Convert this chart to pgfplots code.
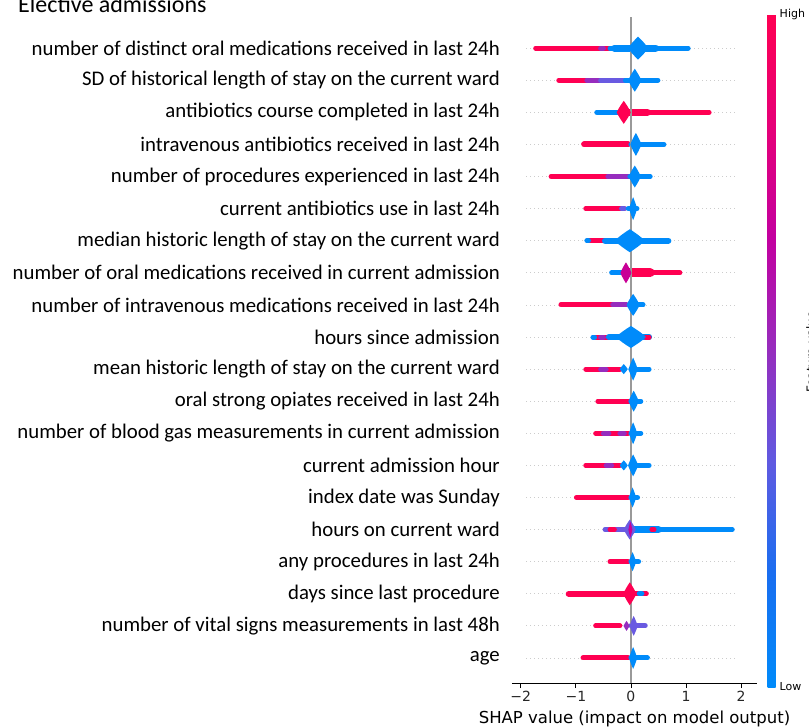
\documentclass[border=0pt]{standalone}
\usepackage{pgfplots}
\pgfplotsset{compat=1.18}
\usepackage{fontspec}
\setmainfont{Carlito}
\newfontfamily\dejavu{DejaVu Sans}
\definecolor{sred}{RGB}{255,0,82}
\definecolor{sblue}{RGB}{0,139,250}
\definecolor{spurple}{RGB}{150,45,190}
\definecolor{sviolet}{RGB}{105,90,225}
\definecolor{smag}{RGB}{200,0,150}
\definecolor{zline}{RGB}{153,153,153}
\definecolor{gridc}{RGB}{204,204,204}
\pgfdeclareplotmark{violin}{%
  \pgfpathmoveto{\pgfqpoint{-1pt}{0pt}}%
  \pgfpathcurveto{\pgfqpoint{-0.8pt}{0.3pt}}{\pgfqpoint{-0.3pt}{0.75pt}}{\pgfqpoint{0pt}{1pt}}%
  \pgfpathcurveto{\pgfqpoint{0.3pt}{0.75pt}}{\pgfqpoint{0.8pt}{0.3pt}}{\pgfqpoint{1pt}{0pt}}%
  \pgfpathcurveto{\pgfqpoint{0.8pt}{-0.3pt}}{\pgfqpoint{0.3pt}{-0.75pt}}{\pgfqpoint{0pt}{-1pt}}%
  \pgfpathcurveto{\pgfqpoint{-0.3pt}{-0.75pt}}{\pgfqpoint{-0.8pt}{-0.3pt}}{\pgfqpoint{-1pt}{0pt}}%
  \pgfpathclose
  \pgfusepathqfill
}
\newcommand\band[4]{\addplot[draw=#4, line width=5pt, line cap=round, forget plot] coordinates {(#2,#1) (#3,#1)};}
\newcommand\bandw[5]{\addplot[draw=#4, line width=#5, line cap=round, forget plot] coordinates {(#2,#1) (#3,#1)};}
\newcommand\blob[5]{\addplot[only marks, mark=violin, forget plot, mark options={fill=#5, draw=none, xscale=#3, yscale=#4}] coordinates {(#2,#1)};}
\begin{document}
\begin{tikzpicture}[x=1pt,y=1pt]
\useasboundingbox (0,0) rectangle (809,-727);
\node[anchor=base west, inner sep=0pt, font=\fontsize{24}{28}\selectfont] at (18,-13) {Elective admissions};
\node[rotate=90, anchor=north, inner sep=0pt, font=\dejavu\fontsize{12}{14}\selectfont] at (806,-352) {Feature value};
\begin{axis}[
  at={(512pt,-683pt)}, anchor=south west,
  scale only axis, width=245pt, height=666pt,
  xmin=-2.16, xmax=2.29, ymin=-0.78, ymax=19.97,
  axis x line*=bottom, axis y line*=left,
  y axis line style={draw=none},
  x axis line style={-, black, line width=0.8pt},
  xtick={-2,-1,0,1,2}, xticklabels={−2,−1,0,1,2},
  xtick align=outside, major tick length=5pt,
  xtick style={black, line width=0.8pt},
  xticklabel style={font=\dejavu\fontsize{14}{16}\selectfont, text=black!85},
  xlabel={SHAP value (impact on model output)},
  xlabel style={font=\dejavu\fontsize{16.5}{19}\selectfont, inner sep=0pt, yshift=-5pt},
  ytick={0,...,19},
  yticklabels={age, number of vital signs measurements in last 48h, days since last procedure, any procedures in last 24h, hours on current ward, index date was Sunday, current admission hour, number of blood gas measurements in current admission, oral strong opiates received in last 24h, mean historic length of stay on the current ward, hours since admission, number of intravenous medications received in last 24h, number of oral medications received in current admission, median historic length of stay on the current ward, current antibiotics use in last 24h, number of procedures experienced in last 24h, intravenous antibiotics received in last 24h, antibiotics course completed in last 24h, SD of historical length of stay on the current ward, number of distinct oral medications received in last 24h},
  ytick style={draw=none},
  yticklabel style={font=\fontsize{20.8}{24}\selectfont, anchor=east, inner sep=0pt, xshift=-12pt},
  colormap={shap}{rgb255=(0,139,250) rgb255=(25,110,240) rgb255=(95,90,225) rgb255=(150,45,190) rgb255=(195,0,160) rgb255=(230,0,120) rgb255=(255,0,82)},
  point meta min=0, point meta max=1,
  colorbar,
  colorbar style={at={(parent axis.north east)}, anchor=north west, xshift=2pt, yshift=3pt,
    scale only axis, width=8pt, height=673pt,
    ytick={0,1}, yticklabels={Low,High}, ytick style={draw=none},
    axis line style={draw=none},
    yticklabel style={font=\dejavu\fontsize{11}{13}\selectfont, inner sep=0pt, xshift=4pt}},
]
\pgfplotsinvokeforeach{0,...,19}{\addplot[gridc, dash pattern=on 1pt off 3pt, line width=0.8pt, forget plot] coordinates {(-1.9,#1) (1.95,#1)};}
% row 19
\band{19}{-1.73}{-0.38}{sred}
\band{19}{-0.55}{-0.5}{spurple}
\band{19}{-0.38}{1.04}{sblue}
\bandw{19}{-0.3}{0.45}{sblue}{7pt}
\blob{19}{0.13}{10}{11.5}{sblue}
% row 18
\band{18}{-1.31}{-0.8}{sred}
\band{18}{-0.8}{-0.55}{spurple}
\band{18}{-0.55}{-0.1}{sviolet}
\band{18}{-0.1}{0.49}{sblue}
\blob{18}{0.07}{6.5}{11.5}{sblue}
% row 17
\band{17}{-0.62}{-0.2}{sblue}
\band{17}{-0.05}{1.42}{sred}
\bandw{17}{-0.05}{0.3}{sred}{7pt}
\blob{17}{-0.13}{7}{11.5}{sred}
% row 16
\bandw{16}{-0.85}{-0.05}{sred}{6pt}
\band{16}{0}{0.6}{sblue}
\blob{16}{0.09}{5.5}{11.5}{sblue}
% row 15
\band{15}{-1.45}{-0.42}{sred}
\band{15}{-0.42}{-0.02}{spurple}
\band{15}{-0.02}{0.35}{sblue}
\blob{15}{0.07}{6}{11}{sblue}
% row 14
\band{14}{-0.82}{-0.12}{sred}
\band{14}{-0.17}{-0.12}{sviolet}
\band{14}{-0.05}{0.11}{sblue}
\blob{14}{0.04}{4}{11.5}{sblue}
% row 13
\band{13}{-0.78}{-0.47}{sred}
\band{13}{-0.8}{-0.77}{sblue}
\bandw{13}{-0.47}{0.68}{sblue}{6pt}
\blob{13}{-0.02}{15}{11.5}{sblue}
% row 12
\band{12}{-0.35}{-0.15}{sblue}
\band{12}{-0.05}{0.89}{sred}
\bandw{12}{-0.05}{0.35}{sred}{9pt}
\blob{12}{-0.09}{5.5}{10.5}{smag}
% row 11
\band{11}{-1.27}{-0.33}{sred}
\band{11}{-0.33}{-0.08}{spurple}
\band{11}{0}{0.22}{sblue}
\blob{11}{0.04}{6.5}{11}{sblue}
% row 10
\band{10}{-0.66}{-0.4}{sred}
\band{10}{-0.69}{-0.66}{sblue}
\band{10}{-0.55}{-0.5}{spurple}
\bandw{10}{-0.4}{0.33}{sblue}{6pt}
\band{10}{0.27}{0.33}{sred}
\blob{10}{0.0}{15}{11}{sblue}
% row 9
\band{9}{-0.82}{-0.2}{sred}
\band{9}{-0.55}{-0.45}{spurple}
\blob{9}{-0.13}{4}{5}{sblue}
\band{9}{0}{0.33}{sblue}
\blob{9}{0.04}{4.5}{11.5}{sblue}
% row 8
\band{8}{-0.6}{-0.02}{sred}
\band{8}{0}{0.18}{sblue}
\blob{8}{0.05}{5}{10.5}{sblue}
% row 7
\band{7}{-0.64}{-0.05}{sred}
\band{7}{-0.5}{-0.4}{spurple}
\band{7}{-0.2}{-0.12}{spurple}
\band{7}{0}{0.18}{sblue}
\blob{7}{0.04}{4}{11}{sblue}
% row 6
\band{6}{-0.82}{-0.2}{sred}
\band{6}{-0.45}{-0.35}{spurple}
\blob{6}{-0.13}{4}{5}{sblue}
\band{6}{0}{0.33}{sblue}
\blob{6}{0.04}{5}{11}{sblue}
% row 5
\band{5}{-0.99}{-0.05}{sred}
\band{5}{0}{0.12}{sblue}
\blob{5}{0.03}{3.5}{10}{sblue}
% row 4
\band{4}{-0.47}{-0.05}{sviolet}
\band{4}{-0.38}{-0.3}{sred}
\band{4}{0}{1.84}{sblue}
\bandw{4}{0}{0.5}{sblue}{7pt}
\band{4}{0.38}{0.42}{sred}
\blob{4}{-0.02}{6}{10}{sviolet}
\blob{4}{-0.01}{2}{8}{smag}
% row 3
\band{3}{-0.38}{-0.05}{sred}
\band{3}{0}{0.14}{sblue}
\blob{3}{0.03}{3.5}{9.5}{sblue}
% row 2
\bandw{2}{-1.13}{-0.1}{sred}{6pt}
\band{2}{0.05}{0.28}{sred}
\band{2}{0.15}{0.2}{sblue}
\blob{2}{-0.02}{6.5}{11.5}{sred}
% row 1
\band{1}{-0.64}{-0.2}{sred}
\band{1}{0}{0.26}{sviolet}
\blob{1}{-0.08}{3}{5}{spurple}
\blob{1}{0.05}{4}{10}{sviolet}
% row 0
\band{0}{-0.87}{-0.05}{sred}
\band{0}{0}{0.3}{sblue}
\blob{0}{0.04}{4}{11}{sblue}
% zero line
\addplot[zline, line width=1.3pt, forget plot] coordinates {(0,-0.78) (0,19.97)};
\end{axis}
\end{tikzpicture}
\end{document}
